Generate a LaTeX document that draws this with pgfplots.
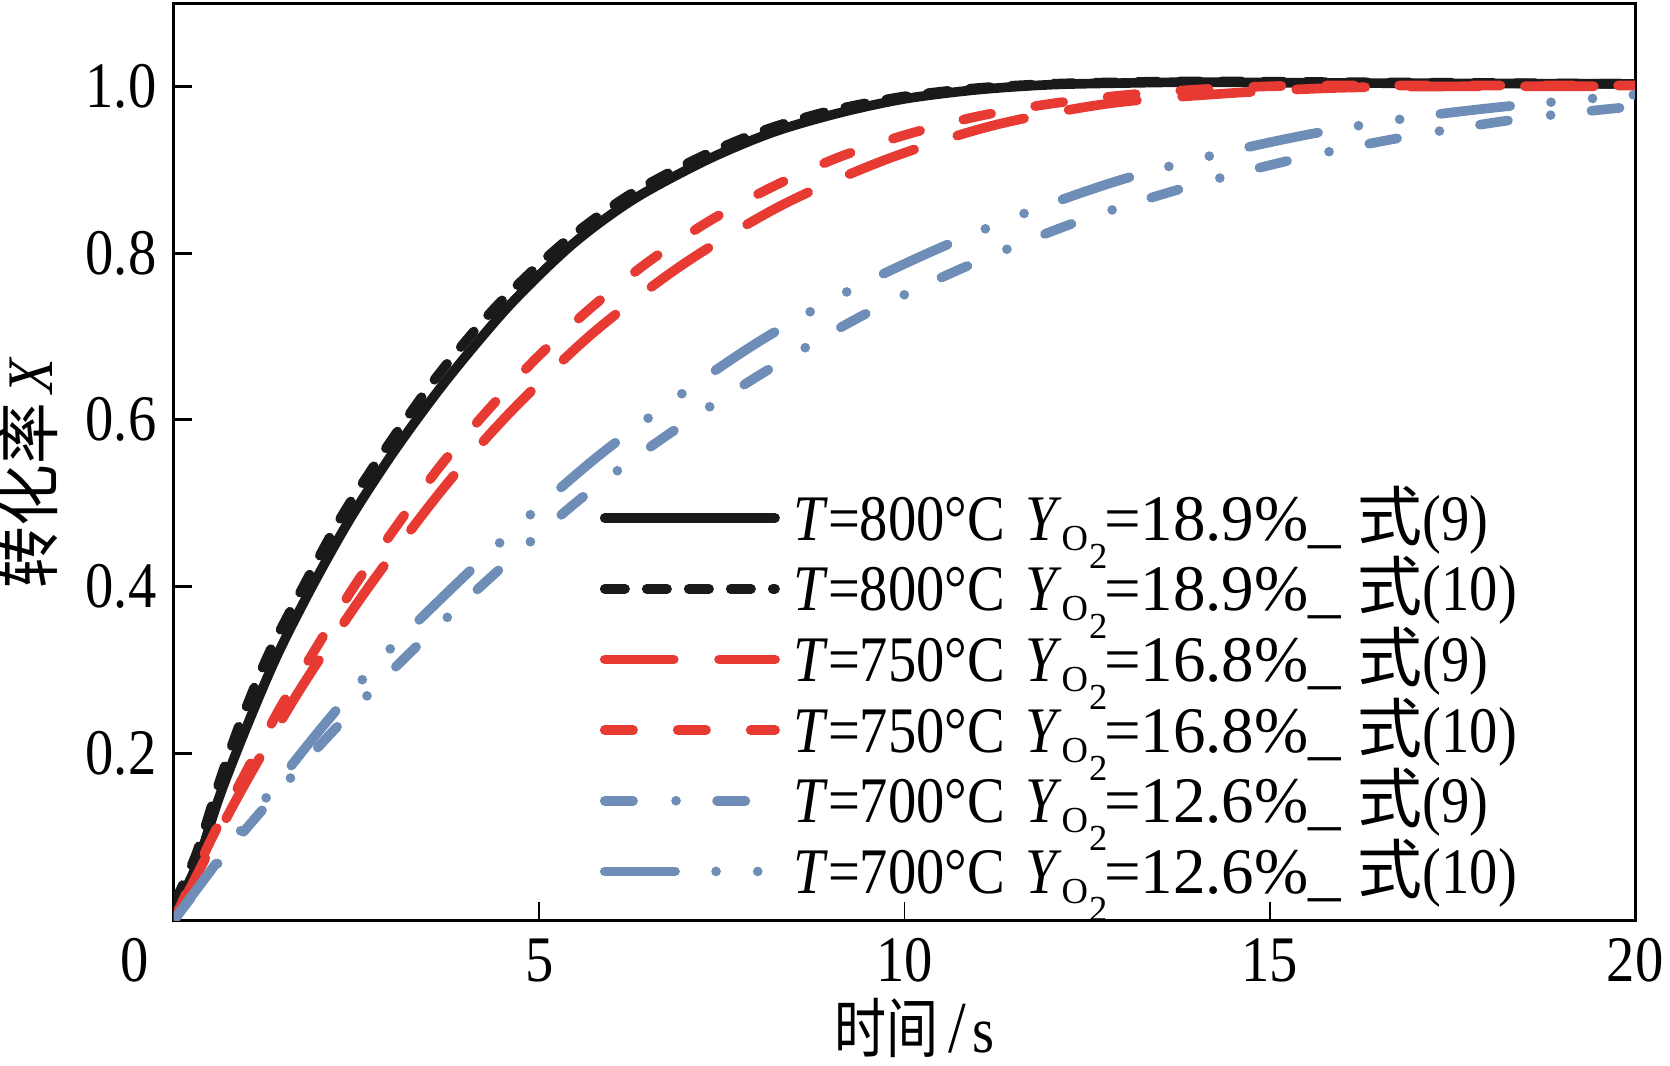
\documentclass[border=0pt]{standalone}
\usepackage{fontspec}
\setmainfont[FakeStretch=0.87]{Liberation Serif}
\newfontfamily\cjk{Noto Sans CJK SC}
\newfontfamily\cjky[FakeStretch=0.95]{Noto Sans CJK SC}
\newfontfamily\cjkx[FakeStretch=0.8]{Noto Sans CJK SC}
\newfontfamily\subfont{Liberation Serif}
\usepackage{pgfplots}
\pgfplotsset{compat=1.18}
\definecolor{cblack}{RGB}{26,26,26}
\definecolor{cred}{RGB}{231,58,50}
\definecolor{cblue}{RGB}{110,141,183}
\newcommand{\YO}{\textit{Y}\raisebox{-3pt}{\subfont\fontsize{11}{11}\selectfont O\kern0.3pt\raisebox{-5.4pt}{2}}\kern-1pt}
\newcommand{\Leg}[3]{\textit{T}=#1°C\hspace{6pt}\YO{\subfont =#2\%\_}\hspace{5pt}{\cjk 式}(#3)}
\begin{document}
\fontsize{19.5}{23}\selectfont
\begin{tikzpicture}
\begin{axis}[
  scale only axis, width=438.3pt, height=275.1pt,
  xmin=0, xmax=20, ymin=0, ymax=1.1,
  axis line style={line width=0.9pt},
  tick align=inside, tick pos=left,
  major tick length=5.5pt,
  xtick={0,5,10,15,20},
  xticklabels={\makebox[0pt]{\kern-23.4pt 0},5,10,15,20},
  ytick={0.2,0.4,0.6,0.8,1.0},
  yticklabels={0.2,0.4,0.6,0.8,1.0},
  xtick style={line width=0.5pt, black},
  ytick style={line width=0.9pt, black},
  xticklabel style={inner ysep=0pt, yshift=-5.4pt},
  yticklabel style={inner xsep=0pt, xshift=-5.1pt},
  every axis x label/.style={at={(axis description cs:0.507,0)}, anchor=center, inner sep=0pt, yshift=-32.5pt},
  every axis y label/.style={at={(axis description cs:0,0.488)}, xshift=-44pt, rotate=90, anchor=center, inner sep=0pt},
  xlabel={{\cjkx 时间}\hspace{3pt}\smash{\fontsize{22}{22}\selectfont /}\hspace{2pt}s},
  ylabel={{\cjky 转化率}\hspace{3pt}\textit{X}},
  legend image code/.code={\draw[#1] (0pt,0pt) -- (51.1pt,0pt);},
  legend cell align=left,
  legend style={draw=none, fill=none, inner sep=0pt, outer sep=0pt,
    at={(axis cs:5.83,0.5245)}, anchor=north west,
    column sep=4pt, row sep=0pt,
    nodes={inner sep=0pt, text height=17.2pt, text depth=4pt}},
  every axis plot/.append style={line width=2.9pt, line cap=round, line join=round},
]
\addplot[cblack, smooth] coordinates {
(0,0.01) (0.31,0.066) (0.63,0.15) (1.0,0.233) (1.41,0.317) (1.89,0.40) (2.43,0.484) (3.05,0.567) (3.76,0.651) (4.6,0.738) (5.46,0.811) (6.3,0.865) (7.3,0.912) (8.2,0.945) (9.1,0.968) (10,0.985) (11,0.996) (12,1.002) (13,1.004) (14,1.005) (16,1.004) (20,1.003)};
\addlegendentry{\Leg{800}{18.9}{9}}
\addplot[cblack, smooth, dash pattern=on 6.1pt off 6.5pt] coordinates {
(0,0.02) (0.3,0.078) (0.6,0.16) (0.9,0.235) (1.3,0.32) (1.77,0.40) (2.3,0.485) (2.91,0.567) (3.6,0.652) (4.4,0.735) (5.3,0.81) (6.2,0.868) (7.2,0.915) (8.1,0.948) (9.0,0.971) (10,0.988) (11,0.998) (12,1.003) (13,1.005) (14,1.006) (16,1.005) (20,1.003)};
\addlegendentry{\Leg{800}{18.9}{10}}
\addplot[cred, smooth, dash pattern=on 20.7pt off 13.6pt] coordinates {
(0,0) (0.53,0.091) (0.97,0.163) (1.70,0.273) (2.62,0.394) (3.66,0.515) (4.58,0.607) (5.72,0.703) (6.96,0.786) (8.31,0.857) (9.74,0.912) (11.21,0.953) (12.76,0.979) (14.32,0.991) (15.85,0.998) (17.5,1.0) (20,1.0)};
\addlegendentry{\Leg{750}{16.8}{9}}
\addplot[cred, smooth, dash pattern=on 8.5pt off 13.4pt] coordinates {
(0,0) (0.5,0.095) (1.0,0.18) (1.45,0.254) (1.95,0.327) (2.48,0.402) (3.05,0.473) (3.63,0.543) (4.27,0.609) (4.95,0.673) (5.69,0.733) (6.47,0.788) (7.30,0.837) (8.18,0.879) (9.10,0.915) (10.02,0.942) (11.0,0.964) (11.99,0.979) (12.96,0.989) (13.97,0.996) (14.96,1.0) (16,1.001) (20,1.001)};
\addlegendentry{\Leg{750}{16.8}{10}}
\addplot[cblue, smooth, dash pattern=on 8.5pt off 12.9pt on 0pt off 12.3pt] coordinates {
(0,0) (0.5,0.057) (1.11,0.122) (2.16,0.225) (3.26,0.323) (4.41,0.417) (5.59,0.507) (6.84,0.587) (8.17,0.662) (9.51,0.729) (10.95,0.788) (12.41,0.839) (13.90,0.88) (15.41,0.914) (16.96,0.941) (18.51,0.962) (20,0.976)};
\addlegendentry{\Leg{700}{12.6}{9}}
\addplot[cblue, smooth, dash pattern=on 21.1pt off 12.3pt on 0pt off 12.5pt on 0pt off 12.3pt] coordinates {
(0,0) (0.33,0.039) (1.0,0.117) (1.95,0.223) (2.85,0.315) (3.78,0.396) (4.8,0.48) (5.80,0.556) (6.9,0.628) (8.01,0.694) (9.2,0.753) (10.4,0.803) (11.65,0.848) (12.93,0.887) (14.25,0.918) (15.57,0.943) (16.9,0.962) (18.24,0.976) (20,0.99)};
\addlegendentry{\Leg{700}{12.6}{10}}
\end{axis}
\pgfresetboundingbox
\path ([xshift=-52.2pt,yshift=-43.5pt]current axis.south west) rectangle ([xshift=10.5pt,yshift=0.9pt]current axis.north east);
\end{tikzpicture}
\end{document}
